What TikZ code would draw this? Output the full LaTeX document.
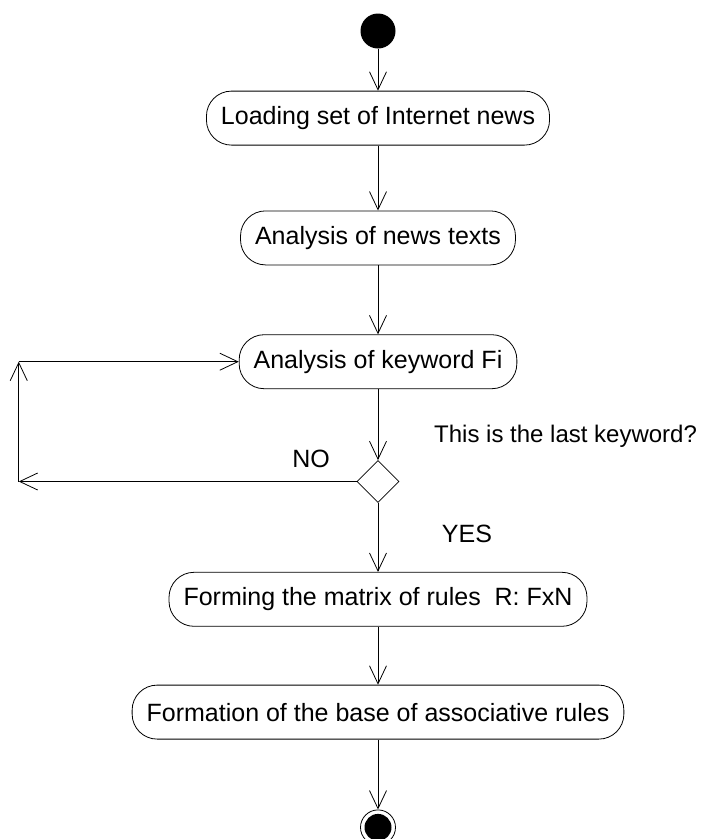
\documentclass[tikz,border=0pt]{standalone}
\usepackage{fontspec}
\setmainfont{Liberation Sans}
\usetikzlibrary{arrows.meta,positioning,shapes.geometric}

\begin{document}
\begin{tikzpicture}[x=1pt,y=-1pt,
      activity/.style={
         rectangle,
         rounded corners=25pt,
         draw=black,
         line width=0.8pt,
         inner xsep=14.5pt,
         minimum height=54pt,
         font=\fontsize{25}{30}\selectfont},
      initstate/.style={circle, fill=black, inner sep=0pt, minimum size=35pt},
      finalstate/.style={
         circle,
         draw=black,
         line width=0.8pt,
         inner sep=0pt,
         minimum size=35pt,
         path picture={\fill[black] (path picture bounding box.center) circle (13.5pt);}},
      decision/.style={diamond, draw=black, line width=0.8pt, aspect=1,
         inner sep=0pt, minimum width=42pt, minimum height=42pt},
      guard/.style={font=\fontsize{25}{30}\selectfont, inner sep=0pt},
      myarrow/.style={-{Straight Barb[length=18pt,width=17pt]}, line width=0.8pt}
      ]
      \useasboundingbox (0,0) rectangle (707,839);

      \node[initstate] (start) at (378,31) {};
      \node[activity,below=42pt of start] (load) {Loading set of Internet news};
      \node[activity,below=65pt of load] (news) {Analysis of news texts};
      \node[activity,below=69pt of news] (keyword) {Analysis of keyword Fi};
      \node[decision,below=71pt of keyword] (check) {};
      \node[activity,below=69pt of check] (matrix) {Forming the matrix of rules~~R: FxN};
      \node[activity,below=58pt of matrix] (base) {Formation of the base of associative rules};
      \node[finalstate,below=70pt of base] (stop) {};

      % guard texts round the decision
      \node[guard,anchor=base west,font=\fontsize{24}{29}\selectfont] (question) at (434,442) {This is the last keyword?};
      \node[guard,anchor=base] (no) at (311,467) {NO};
      \node[guard,anchor=base] (yes) at (467,542) {YES};

      % corners of the loop back
      \coordinate (looptop) at ([xshift=-220pt]keyword.west);
      \coordinate (loopbot) at (looptop |- check.west);

    \foreach \i/\j in {% from/to
      start/load,
      load/news,
      news/keyword,
      keyword/check,
      check/matrix,
      matrix/base,
      base/stop,
      check.west/loopbot,
      loopbot/looptop,
      looptop/keyword.west}
       \draw [myarrow] (\i) -- (\j);

    \end{tikzpicture}
\end{document}
